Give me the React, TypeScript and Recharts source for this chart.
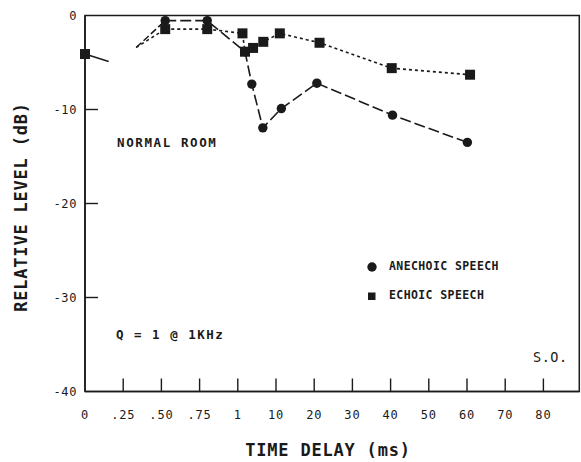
import React from 'react';
import { LineChart, Line, XAxis, YAxis, ReferenceArea, Legend } from 'recharts';

// x axis is broken: 0–1 ms in quarter steps, then 1→10 ms, then 10 ms steps
const delayTickLabels = ['0', '.25', '.50', '.75', '1', '10', '20', '30', '40', '50', '60', '70', '80'];
const levelTicks = [0, -10, -20, -30, -40];

// delay (ms) / relative level (dB)
const anechoicDelay = [0.525, 0.8, 2.7, 4.3, 6.9, 11.4, 20.7, 40.5, 60.1];
const anechoicLevel = [-0.55, -0.55, -3.85, -7.3, -11.95, -9.9, -7.2, -10.6, -13.5];

const echoicDelay = [0.525, 0.8, 2.1, 2.7, 4.6, 7.0, 11, 21.4, 40.3, 60.8];
const echoicLevel = [-1.45, -1.45, -1.9, -3.85, -3.45, -2.8, -1.9, -2.9, -5.6, -6.3];

// zero-delay reference level and the short stubs around the axis break
const stubOutDelay = [0, 0.155];
const stubOutLevel = [-4.1, -4.9];
const stubInDelay = [0.335, 0.525];
const stubInAnechoic = [-3.4, -0.55];
const stubInEchoic = [-3.4, -1.45];

const X_MAX = 12.94;
const INK = '#1a1a1a';
const MONO = '"DejaVu Sans Mono", monospace';

const toAxis = (ms: number) =>
  ms <= 1 ? ms * 4 : ms <= 10 ? 4 + (ms - 1) / 9 : 5 + (ms - 10) / 10;

const rows = (delay: number[], level: number[]) =>
  delay.map((ms, i) => ({ pos: toAxis(ms), level: level[i] }));

const anechoicRows = rows(anechoicDelay, anechoicLevel);
const echoicRows = rows(echoicDelay, echoicLevel);
const stubOutRows = rows(stubOutDelay, stubOutLevel);
const stubInARows = rows(stubInDelay, stubInAnechoic);
const stubInERows = rows(stubInDelay, stubInEchoic);

const XTick = (props: any) => {
  const { x, y, payload } = props;
  const i = payload.value as number;
  return (
    <g>
      {i > 0 && <line x1={x} x2={x} y1={y} y2={y - 13} stroke={INK} strokeWidth={1.4} />}
      <text x={x} y={y + 27} textAnchor="middle" fontFamily={MONO} fontSize={12} letterSpacing={0.8} fill={INK}>
        {delayTickLabels[i]}
      </text>
    </g>
  );
};

const YTick = (props: any) => {
  const { x, y, payload } = props;
  const v = payload.value as number;
  return (
    <g>
      {v !== 0 && v !== -40 && <line x1={x} x2={x + 13} y1={y} y2={y} stroke={INK} strokeWidth={1.4} />}
      <text x={x - 8} y={y + 4} textAnchor="end" fontFamily={MONO} fontSize={12} letterSpacing={0.6} fill={INK}>
        {v}
      </text>
    </g>
  );
};

const RightTick = (props: any) => {
  const { x, y, payload } = props;
  const v = payload.value as number;
  if (v === 0 || v === -40) return <g />;
  return <line x1={x} x2={x - 14} y1={y} y2={y} stroke={INK} strokeWidth={1.4} />;
};

const SquareDot = (props: any) => {
  const { cx, cy, key } = props;
  if (cx == null || cy == null) return <g key={key} />;
  return <rect key={key} x={cx - 5} y={cy - 5} width={10} height={10} fill={INK} />;
};

// only the zero-delay point carries a marker
const ZeroDot = (props: any) => {
  const { index } = props;
  if (index !== 0) return <g key={props.key} />;
  return SquareDot(props);
};

const LegendBox = () => (
  <div style={{ fontFamily: MONO, fontWeight: 'bold', fontSize: 11.5, letterSpacing: 0.4, color: INK, lineHeight: '29px' }}>
    <div style={{ display: 'flex', alignItems: 'center' }}>
      <svg width={12} height={12} style={{ marginRight: 11 }}>
        <circle cx={6} cy={6} r={4.7} fill={INK} />
      </svg>
      ANECHOIC SPEECH
    </div>
    <div style={{ display: 'flex', alignItems: 'center' }}>
      <svg width={12} height={12} style={{ marginRight: 11 }}>
        <rect x={2} y={2.5} width={7.5} height={7.5} fill={INK} />
      </svg>
      ECHOIC SPEECH
    </div>
  </div>
);

export default function App() {
  return (
    <div style={{ position: 'absolute', left: 0, top: 0, background: '#fff' }}>
      <LineChart width={581} height={462} margin={{ top: 15.5, right: 0.7, bottom: 69.5, left: 84 }}>
        <XAxis
          type="number"
          dataKey="pos"
          domain={[0, X_MAX]}
          ticks={[0, 1, 2, 3, 4, 5, 6, 7, 8, 9, 10, 11, 12]}
          interval={0}
          height={1}
          tickSize={0}
          tickMargin={0}
          tickLine={false}
          axisLine={{ stroke: INK, strokeWidth: 1.5 }}
          tick={XTick}
        />
        <YAxis
          type="number"
          domain={[-40, 0]}
          ticks={levelTicks}
          interval={0}
          width={1}
          tickSize={0}
          tickMargin={0}
          tickLine={false}
          axisLine={{ stroke: INK, strokeWidth: 1.5 }}
          tick={YTick}
        />
        <YAxis
          yAxisId="right"
          orientation="right"
          type="number"
          domain={[-40, 0]}
          ticks={levelTicks}
          interval={0}
          width={1}
          tickSize={0}
          tickMargin={0}
          tickLine={false}
          axisLine={false}
          tick={RightTick}
        />
        <ReferenceArea x1={0} x2={X_MAX} y1={-40} y2={0} fill="none" stroke={INK} strokeWidth={1.5} />

        <Line data={stubOutRows} dataKey="level" stroke={INK} strokeWidth={1.5} dot={ZeroDot} legendType="none" isAnimationActive={false} />
        <Line data={stubInARows} dataKey="level" stroke={INK} strokeWidth={1.5} strokeDasharray="7 3" dot={false} legendType="none" isAnimationActive={false} />
        <Line data={stubInERows} dataKey="level" stroke={INK} strokeWidth={1.5} strokeDasharray="3 3" dot={false} legendType="none" isAnimationActive={false} />

        <Line
          name="ANECHOIC SPEECH"
          data={anechoicRows}
          dataKey="level"
          stroke={INK}
          strokeWidth={1.6}
          strokeDasharray="11 4"
          dot={{ r: 4.7, fill: INK, stroke: INK, strokeWidth: 0 }}
          isAnimationActive={false}
        />
        <Line
          name="ECHOIC SPEECH"
          data={echoicRows}
          dataKey="level"
          stroke={INK}
          strokeWidth={1.6}
          strokeDasharray="3 3"
          dot={SquareDot}
          isAnimationActive={false}
        />

        <Legend
          layout="horizontal"
          verticalAlign="middle"
          align="center"
          content={LegendBox}
          wrapperStyle={{ left: 366, top: 252, width: 'auto' }}
        />

        <text x={117} y={146.5} fontFamily={MONO} fontWeight="bold" fontSize={12.5} letterSpacing={1.6} fill={INK}>
          NORMAL ROOM
        </text>
        <text x={116} y={338.5} fontFamily={MONO} fontWeight="bold" fontSize={12.5} letterSpacing={1.5} fill={INK}>
          Q = 1 @ 1KHz
        </text>
        <text x={533} y={361.5} fontFamily={MONO} fontSize={13.5} letterSpacing={0.5} fill={INK}>
          S.O.
        </text>
        <text x={328} y={456} textAnchor="middle" fontFamily={MONO} fontWeight="bold" fontSize={17} letterSpacing={0.8} fill={INK}>
          TIME DELAY (ms)
        </text>
        <text
          x={0}
          y={0}
          transform="translate(27 207) rotate(-90)"
          textAnchor="middle"
          fontFamily={MONO}
          fontWeight="bold"
          fontSize={17}
          letterSpacing={0.8}
          fill={INK}
        >
          RELATIVE LEVEL (dB)
        </text>
      </LineChart>
    </div>
  );
}
